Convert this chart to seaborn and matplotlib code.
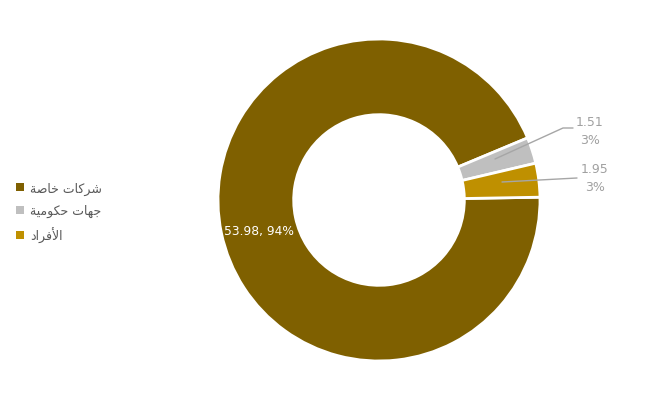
import matplotlib
matplotlib.use("Agg")
import matplotlib.pyplot as plt
from matplotlib.patches import Patch
import seaborn as sns

# Data
# Arabic labels "شركات خاصة", "جهات حكومية", "الأفراد" written as joined
# presentation forms in visual (left-to-right display) order, since
# matplotlib does no bidi reordering or Arabic shaping itself
categories = [
    "\uFE94\uFEBB\uFE8E\uFEA7 \uFE95\uFE8E\uFEDB\uFEAE\uFEB7",
    "\uFE94\uFEF4\uFEE3\uFEEE\uFEDC\uFEA3 \uFE95\uFE8E\uFEEC\uFE9F",
    "\uFEA9\uFE8D\uFEAE\uFED3\uFEF7\uFE8D",
]
values = [53.98, 1.51, 1.95]
percent_labels = ["94%", "3%", "3%"]
colors = ["#7F6000", "#BFBFBF", "#BF9000"]

sns.set_theme(style="white")
plt.rcParams["font.family"] = ["DejaVu Sans"]

W, H = 655, 406
fig = plt.figure(figsize=(W / 100, H / 100), dpi=100)
cx, cy, R = 379, 201, 161
ax = fig.add_axes([(cx - R) / W, (H - cy - R) / H, 2 * R / W, 2 * R / H])

wedges, _ = ax.pie(
    values,
    colors=colors,
    startangle=1,
    counterclock=False,
    radius=1.0,
    wedgeprops=dict(width=0.47, edgecolor="white", linewidth=2),
)
ax.set_xlim(-1, 1)
ax.set_ylim(-1, 1)
ax.set_aspect("equal")
ax.axis("off")

def d(px, py):
    return ((px - cx) / R, (cy - py) / R)

# Big slice label
ax.text(*d(259, 232), f"{values[0]:.2f}, {percent_labels[0]}", color="white",
        fontsize=8.8, ha="center", va="center")

label_color = "#A0A0A0"
line_color = "#A6A6A6"

# Gray slice label + leader line
p = [d(573, 129), d(563, 129), d(495, 160)]
ax.plot([q[0] for q in p], [q[1] for q in p], color=line_color, lw=1, clip_on=False)
ax.text(*d(590, 131), f"{values[1]:.2f}\n{percent_labels[1]}", ha="center", va="center",
        color=label_color, fontsize=9, linespacing=1.5)

# Gold slice label + leader line
p = [d(577, 179), d(502, 183)]
ax.plot([q[0] for q in p], [q[1] for q in p], color=line_color, lw=1, clip_on=False)
ax.text(*d(595, 179), f"{values[2]:.2f}\n{percent_labels[2]}", ha="center", va="center",
        color=label_color, fontsize=9, linespacing=1.5)

handles = [Patch(facecolor=c, edgecolor="none") for c in colors]
leg = fig.legend(handles, categories, loc="center left",
                 bbox_to_anchor=(5 / W, 1 - 213 / H), frameon=False,
                 handlelength=0.6, handleheight=0.6, handletextpad=0.5,
                 labelspacing=0.75, fontsize=9, labelcolor="#595959")

fig.savefig("out.png", dpi=100, facecolor="white")
